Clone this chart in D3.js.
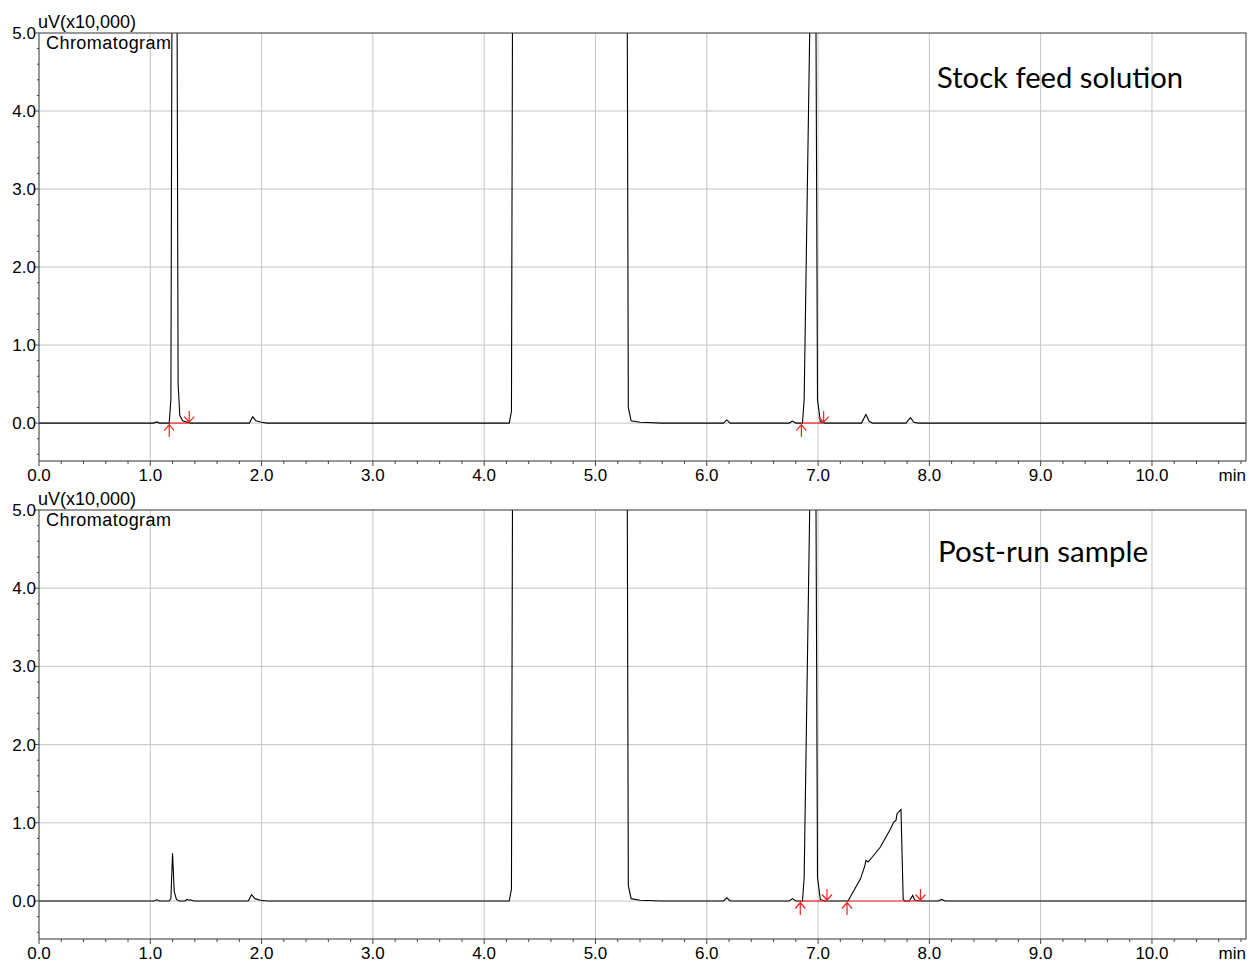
<!DOCTYPE html>
<html lang="en">
  <head>
    <meta charset="UTF-8" />
    <title>Chromatograms</title>
    <style>
      body { margin: 0; background: #fff; }
      text { font-family: "Liberation Sans", Arial, sans-serif; fill: #000; }
      .grid line { stroke: #c4c4c4; stroke-width: 1; }
      .trace { fill: none; stroke: #000; stroke-width: 1.1; }
      .mark { fill: none; stroke: #ff2020; stroke-width: 1.2; }
      .note { font-family: Lato, "Open Sans", sans-serif; }
    </style>
  </head>
  <body>
    <script src="https://cdn.jsdelivr.net/npm/d3@7"></script>
    <script>

      // tick labels
      var xTicks = [0, 1, 2, 3, 4, 5, 6, 7, 8, 9, 10];
      var yTicks = [0, 1, 2, 3, 4, 5];

      // trace points [min, uV x10,000] -- values above 5.0 run off the chart
      var topTrace = [
        [0.00, 0.00], [1.03, 0.00], [1.06, 0.015], [1.08, 0.00], [1.17, 0.00],
        [1.185, 0.3], [1.195, 5.5], [1.215, 9], [1.24, 5.5], [1.25, 0.5],
        [1.265, 0.1], [1.29, 0.03], [1.36, 0.00], [1.89, 0.00], [1.92, 0.08],
        [1.95, 0.03], [2.00, 0.01], [2.05, 0.00], [4.225, 0.00], [4.245, 0.15],
        [4.255, 5.5], [4.27, 8], [5.27, 8], [5.285, 5.5], [5.295, 0.2],
        [5.32, 0.03], [5.40, 0.01], [5.60, 0.00], [6.15, 0.00], [6.18, 0.04],
        [6.21, 0.00], [6.74, 0.00], [6.77, 0.025], [6.80, 0.00], [6.86, 0.00],
        [6.875, 0.3], [6.93, 5.5], [6.955, 9], [6.98, 5.5], [6.995, 0.3],
        [7.02, 0.02], [7.06, 0.00], [7.39, 0.00], [7.43, 0.11], [7.46, 0.02],
        [7.49, 0.00], [7.79, 0.00], [7.83, 0.07], [7.86, 0.01], [7.90, 0.00],
        [10.85, 0.00]
      ];

      var bottomTrace = [
        [0.00, 0.00], [1.03, 0.00], [1.06, 0.015], [1.08, 0.00], [1.17, 0.00],
        [1.185, 0.03], [1.20, 0.61], [1.215, 0.12], [1.235, 0.02], [1.26, 0.00],
        [1.31, 0.00], [1.33, 0.02], [1.345, 0.01], [1.36, 0.015], [1.39, 0.00],
        [1.88, 0.00], [1.91, 0.08], [1.94, 0.03], [1.99, 0.01], [2.05, 0.00],
        [4.225, 0.00], [4.245, 0.15], [4.255, 5.5], [4.27, 8], [5.27, 8],
        [5.285, 5.5], [5.295, 0.2], [5.32, 0.03], [5.40, 0.01], [5.60, 0.00],
        [6.15, 0.00], [6.18, 0.04], [6.21, 0.00], [6.74, 0.00], [6.77, 0.03],
        [6.80, 0.00], [6.86, 0.00], [6.875, 0.3], [6.93, 5.5], [6.955, 9],
        [6.98, 5.5], [6.995, 0.3], [7.02, 0.02], [7.06, 0.00], [7.27, 0.00],
        [7.30, 0.08], [7.38, 0.28], [7.42, 0.45], [7.43, 0.52], [7.45, 0.50],
        [7.48, 0.55], [7.56, 0.69], [7.65, 0.92], [7.68, 1.01], [7.70, 1.03],
        [7.71, 1.12], [7.745, 1.17], [7.765, 0.02], [7.78, 0.00], [7.82, 0.00],
        [7.85, 0.07], [7.87, 0.01], [7.92, 0.00], [8.08, 0.00], [8.11, 0.02],
        [8.14, 0.00], [10.85, 0.00]
      ];

      // integration baselines [start, end] in min
      var topBaselines = [[1.17, 1.35], [6.85, 7.05]];
      var bottomBaselines = [[6.84, 7.08], [7.26, 7.92]];

      var topLabel = "Stock feed solution";
      var bottomLabel = "Post-run sample";

      var w = 1253, h = 963;
      var plotLeft = 39, plotRight = 1246;

      var svg = d3.select("body").append("svg")
                  .attr("width", w)
                  .attr("height", h);

      var xScale = d3.scaleLinear()
                     .domain([0, 10.845])
                     .range([plotLeft, plotRight]);

      function drawPanel(id, top, bottom, trace, baselines, label, labelX, labelY, labelLen) {
        var yScale = d3.scaleLinear()
                       .domain([-0.486, 5.0])
                       .range([bottom, top]);

        var g = svg.append("g");

        g.append("clipPath").attr("id", "clip" + id)
         .append("rect")
         .attr("x", plotLeft).attr("y", top)
         .attr("width", plotRight - plotLeft).attr("height", bottom - top);

        // grid
        var grid = g.append("g").attr("class", "grid");
        grid.selectAll(".gx").data(xTicks.slice(1))
            .enter().append("line")
            .attr("x1", function(d) { return xScale(d); })
            .attr("x2", function(d) { return xScale(d); })
            .attr("y1", top).attr("y2", bottom);
        grid.selectAll(".gy").data(yTicks.slice(0, -1))
            .enter().append("line")
            .attr("y1", function(d) { return yScale(d); })
            .attr("y2", function(d) { return yScale(d); })
            .attr("x1", plotLeft).attr("x2", plotRight);

        // trace
        var line = d3.line()
                     .x(function(d) { return xScale(d[0]); })
                     .y(function(d) { return yScale(d[1]); });

        g.append("path")
         .datum(trace)
         .attr("class", "trace")
         .attr("clip-path", "url(#clip" + id + ")")
         .attr("d", line);

        // integration marks
        var y0 = yScale(0);
        baselines.forEach(function(b) {
          var xa = xScale(b[0]), xb = xScale(b[1]);
          g.append("line").attr("class", "mark")
           .attr("x1", xa).attr("x2", xb).attr("y1", y0).attr("y2", y0);
          // up arrow at start
          g.append("path").attr("class", "mark")
           .attr("d", "M" + xa + "," + (y0 + 14) + "V" + (y0 + 1.5) +
                      "M" + (xa - 5) + "," + (y0 + 7.5) + "L" + xa + "," + (y0 + 1.5) + "L" + (xa + 5) + "," + (y0 + 7.5));
          // down arrow at end
          g.append("path").attr("class", "mark")
           .attr("d", "M" + xb + "," + (y0 - 12) + "V" + (y0 - 1) +
                      "M" + (xb - 5) + "," + (y0 - 6.5) + "L" + xb + "," + (y0 - 1) + "L" + (xb + 5) + "," + (y0 - 6.5));
        });

        // frame
        g.append("rect")
         .attr("x", plotLeft).attr("y", top)
         .attr("width", plotRight - plotLeft).attr("height", bottom - top)
         .attr("fill", "none").attr("stroke", "#333").attr("stroke-width", 1);

        // x axis ticks
        var minorX = d3.range(0, 10.85, 0.2);
        g.selectAll(".mx").data(minorX).enter().append("line")
         .attr("x1", function(d) { return xScale(d); })
         .attr("x2", function(d) { return xScale(d); })
         .attr("y1", bottom).attr("y2", function(d) {
            return Math.abs(d - Math.round(d)) < 0.01 ? bottom + 5 : bottom + 3; })
         .attr("stroke", "#444");
        g.selectAll(".xl").data(xTicks).enter().append("text")
         .attr("x", function(d) { return xScale(d); })
         .attr("y", bottom + 20)
         .attr("text-anchor", "middle")
         .attr("font-size", "17px")
         .text(function(d) { return d3.format(".1f")(d); });
        g.append("text")
         .attr("x", plotRight).attr("y", bottom + 20)
         .attr("text-anchor", "end").attr("font-size", "17px")
         .text("min");

        // y axis ticks
        var minorY = d3.range(-0.4, 5.01, 0.2);
        g.selectAll(".my").data(minorY).enter().append("line")
         .attr("y1", function(d) { return yScale(d); })
         .attr("y2", function(d) { return yScale(d); })
         .attr("x1", plotLeft).attr("x2", function(d) {
            return Math.abs(d - Math.round(d)) < 0.01 ? plotLeft - 4 : plotLeft - 2; })
         .attr("stroke", "#444");
        g.selectAll(".yl").data(yTicks).enter().append("text")
         .attr("x", plotLeft - 3)
         .attr("y", function(d) { return yScale(d) + 6; })
         .attr("text-anchor", "end")
         .attr("font-size", "17px")
         .text(function(d) { return d3.format(".1f")(d); });

        g.append("text")
         .attr("x", plotLeft - 1).attr("y", top - 5)
         .attr("font-size", "18px")
         .text("uV(x10,000)");
        g.append("text")
         .attr("x", plotLeft + 7).attr("y", top + 16)
         .attr("font-size", "18px")
         .attr("textLength", 125)
         .attr("lengthAdjust", "spacing")
         .text("Chromatogram");

        g.append("text")
         .attr("class", "note")
         .attr("x", labelX).attr("y", labelY)
         .attr("font-size", "28px")
         .attr("textLength", labelLen)
         .attr("lengthAdjust", "spacingAndGlyphs")
         .text(label);
      }

      drawPanel("top", 33, 461, topTrace, topBaselines, topLabel, 937, 88, 246);
      drawPanel("bottom", 510, 939, bottomTrace, bottomBaselines, bottomLabel, 938, 562, 210);

    </script>
  </body>
</html>
